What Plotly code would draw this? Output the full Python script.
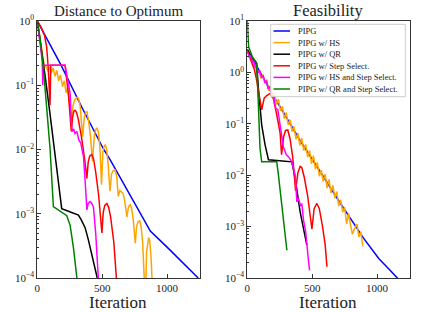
import numpy as np
import plotly.graph_objects as go

# ---------------- data (iteration, log10 value) ----------------
# Left panel: Distance to Optimum
d_pipg_it = [0, 176, 350, 512, 562, 700, 871, 1000, 1100, 1220, 1240]
d_pipg_lg = [0, -0.66, -1.37, -2.0, -2.16, -2.66, -3.27, -3.52, -3.72, -3.96, -4.0]

d_hs_it = [0, 20, 40, 55, 70, 85, 95, 110, 122, 137, 150, 165, 178, 195, 208, 222, 235, 250, 262,
           275, 290, 305, 317, 330, 340, 350, 362, 372, 382, 395, 410, 425, 440, 450, 459, 470, 482,
           495, 505, 515, 523, 533, 545, 560, 572, 585, 600, 612, 624, 636, 648, 660, 672, 682, 691,
           700, 709, 717, 727, 740, 755, 765, 777, 789, 800, 812, 822, 833, 842, 850, 858, 866, 876,
           886, 895]
d_hs_lg = [0, -0.28, -0.55, -0.7, -0.72, -0.79, -0.71, -0.8, -0.73, -0.86, -0.77, -0.93, -0.84, -1.02,
           -0.93, -1.12, -1.02, -1.3, -1.55, -1.32, -1.22, -1.19, -1.2, -1.32, -1.55, -1.8, -1.5, -1.42,
           -1.41, -1.55, -1.8, -2.18, -1.78, -1.69, -1.67, -1.72, -1.95, -2.55, -2.05, -1.95, -1.93, -1.98,
           -2.2, -2.65, -2.38, -2.33, -2.32, -2.42, -2.73, -2.64, -2.66, -2.68, -2.78, -2.9, -3.05, -2.92,
           -2.87, -2.86, -2.92, -3.1, -3.46, -3.2, -3.12, -3.11, -3.2, -3.45, -3.75, -4.4, -3.6, -3.42,
           -3.37, -3.42, -3.65, -4.1, -4.5]

d_qr_it = [0, 30, 60, 95, 130, 160, 188, 250, 317, 340, 369, 394, 430, 462, 470]
d_qr_lg = [0, -0.4, -0.85, -1.4, -2.0, -2.45, -2.92, -2.97, -3.02, -3.1, -3.22, -3.41, -3.7, -4.0, -4.1]

d_ss_it = [0, 30, 55, 72, 85, 98, 104, 214, 240, 262, 272, 282, 291, 302, 315, 340, 365, 382, 392,
           404, 420, 434, 450, 472, 498, 508, 520, 536, 550, 565, 590, 614, 620]
d_ss_lg = [0, -0.1, -0.22, -0.4, -0.75, -1.31, -0.69, -0.69, -1.15, -1.72, -1.5, -1.4, -1.39, -1.42,
           -1.52, -1.8, -2.15, -2.45, -2.2, -2.1, -2.08, -2.15, -2.35, -2.7, -3.3, -2.98, -2.87, -2.84,
           -2.9, -3.05, -3.45, -4.0, -4.3]

d_hsss_it = [0, 20, 38, 42, 46, 214, 230, 253, 262, 268, 280, 291, 305, 320, 335, 356, 369, 382, 392,
             407, 420, 433, 450, 472, 476]
d_hsss_lg = [0, -0.3, -0.62, -1.0, -0.69, -0.69, -0.9, -1.13, -1.55, -1.72, -1.68, -1.75, -1.72, -1.85,
             -1.9, -2.11, -2.5, -2.94, -2.84, -2.81, -2.84, -2.9, -3.3, -3.98, -4.2]

d_qrss_it = [0, 20, 46, 75, 98, 124, 227, 253, 280, 305, 310]
d_qrss_lg = [0, -0.25, -0.71, -1.35, -1.98, -2.89, -3.03, -3.18, -3.55, -4.0, -4.1]

# Right panel: Feasibility
f_pipg_it = [0, 100, 200, 300, 400, 562, 700, 897, 1013, 1100, 1160, 1175]
f_pipg_lg = [0.45, 0.0, -0.45, -0.87, -1.3, -1.93, -2.48, -3.23, -3.62, -3.85, -4.0, -4.05]

f_hs_it = [0, 15, 30, 45, 60, 75, 90, 105, 120, 135, 150, 165, 180, 195, 210, 225, 240, 255, 270,
           285, 300, 315, 330, 345, 360, 375, 390, 405, 420, 435, 450, 465, 480, 495, 510, 525, 540,
           555, 570, 585, 600, 615, 630, 645, 660, 675, 690, 705, 720, 735, 750, 765, 780, 795, 810,
           825, 845, 860, 875, 890]
f_hs_lg = [0.45, 0.33, 0.28, 0.15, 0.14, 0.0, 0.02, -0.12, -0.04, -0.22, -0.14, -0.36, -0.26, -0.5,
           -0.4, -0.62, -0.52, -0.75, -0.66, -0.9, -0.78, -1.02, -0.92, -1.15, -1.05, -1.3, -1.18,
           -1.42, -1.28, -1.52, -1.4, -1.65, -1.52, -1.78, -1.62, -1.88, -1.75, -2.02, -1.9, -2.12,
           -1.98, -2.25, -2.08, -2.35, -2.2, -2.45, -2.32, -2.6, -2.48, -2.72, -2.62, -2.95, -2.75,
           -2.95, -3.15, -3.05, -2.95, -3.2, -3.1, -3.38]

f_qr_it = [0, 30, 60, 72, 85, 100, 111, 137, 163, 250, 343, 369, 407, 430, 459]
f_qr_lg = [0.45, 0.3, 0.22, 0.18, -0.3, -0.75, -1.02, -1.41, -1.7, -1.72, -1.74, -2.06, -2.71, -3.0, -3.36]

f_ss_it = [0, 30, 55, 72, 90, 111, 130, 150, 175, 200, 225, 253, 264, 280, 295, 312, 330, 350, 372,
           390, 407, 420, 440, 465, 498, 515, 536, 555, 580, 600, 614]
f_ss_lg = [0.42, 0.2, 0.05, -0.15, -0.4, -0.73, -0.5, -0.45, -0.41, -0.5, -0.8, -1.18, -1.6, -1.25,
           -1.13, -1.12, -1.3, -1.65, -2.3, -1.95, -1.83, -1.85, -2.05, -2.4, -3.05, -2.65, -2.55,
           -2.65, -3.0, -3.35, -3.78]

f_hsss_it = [0, 15, 25, 40, 50, 60, 72, 85, 97, 110, 122, 137, 148, 160, 172, 189, 200, 220, 235,
             253, 278, 300, 320, 343, 369, 382, 395, 410, 420, 433, 450, 472, 480]
f_hsss_lg = [0.4, 0.3, 0.33, 0.2, 0.22, 0.1, 0.12, 0.0, 0.02, -0.1, -0.06, -0.2, -0.16, -0.32, -0.27,
             -0.48, -0.45, -0.7, -0.72, -1.02, -1.45, -1.6, -1.65, -1.74, -2.0, -2.52, -2.45, -2.6,
             -2.55, -2.87, -3.1, -3.68, -3.85]

f_qrss_it = [0, 5, 10, 40, 72, 85, 98, 111, 227, 240, 270, 305]
f_qrss_lg = [1.0, 0.75, 0.5, 0.3, 0.18, -0.6, -1.48, -1.74, -1.74, -2.0, -2.7, -3.46]

series_names = ["PIPG", "PIPG w/ HS", "PIPG w/ QR", "PIPG w/ Step Select.",
                "PIPG w/ HS and Step Select.", "PIPG w/ QR and Step Select."]
series_colors = ["#0000ff", "#ffa500", "#000000", "#ff0000", "#ff00ff", "#008000"]

left_series = [(d_pipg_it, d_pipg_lg), (d_hs_it, d_hs_lg), (d_qr_it, d_qr_lg),
               (d_ss_it, d_ss_lg), (d_hsss_it, d_hsss_lg), (d_qrss_it, d_qrss_lg)]
right_series = [(f_pipg_it, f_pipg_lg), (f_hs_it, f_hs_lg), (f_qr_it, f_qr_lg),
                (f_ss_it, f_ss_lg), (f_hsss_it, f_hsss_lg), (f_qrss_it, f_qrss_lg)]

titles = ["Distance to Optimum", "Feasibility"]
title_sizes = [15, 16.5]
xlabel = "Iteration"
x_ticks = [0, 500, 1000]
left_exps = [0, -1, -2, -3, -4]
right_exps = [1, 0, -1, -2, -3, -4]

# ---------------- figure ----------------
FONT = "Liberation Serif"
W, H = 436, 312
fig = go.Figure()

for (xs, ys), name, col in zip(left_series, series_names, series_colors):
    fig.add_trace(go.Scatter(x=xs, y=10 ** np.array(ys, dtype=float), mode="lines", name=name,
                             line=dict(color=col, width=1.5), xaxis="x", yaxis="y", showlegend=False,
                             hoverinfo="skip"))
for (xs, ys), name, col in zip(right_series, series_names, series_colors):
    fig.add_trace(go.Scatter(x=xs, y=10 ** np.array(ys, dtype=float), mode="lines", name=name,
                             line=dict(color=col, width=1.5), xaxis="x2", yaxis="y2", showlegend=False,
                             hoverinfo="skip"))


def ytick_text(e):
    s = str(e).replace("-", "\u2212")
    return "10<sup>" + s + "</sup>"


def minor_vals(lo, hi):
    v = []
    for k in range(lo, hi):
        for m in range(2, 10):
            v.append(m * 10.0 ** k)
    return v


axis_common = dict(showline=True, mirror=True, linecolor="#333333", linewidth=1, showgrid=False,
                   zeroline=False, ticks="inside", ticklen=4, tickcolor="#333333",
                   tickfont=dict(family=FONT, size=11, color="#222"))

PX = lambda px: px / W
PY = lambda py: 1 - py / H

xdom1 = [PX(37.3), PX(199.5)]
xdom2 = [PX(247.3), PX(409.5)]
ydom = [PY(278), PY(21)]

fig.update_layout(
    width=W, height=H, margin=dict(l=0, r=0, t=0, b=0, autoexpand=False),
    paper_bgcolor="white", plot_bgcolor="white",
    font=dict(family=FONT, color="#222"),
    xaxis=dict(domain=xdom1, range=[0, 1250], tickvals=x_ticks, anchor="y", automargin=False, **axis_common),
    xaxis2=dict(domain=xdom2, range=[0, 1250], tickvals=x_ticks, anchor="y2", automargin=False, **axis_common),
    yaxis=dict(domain=ydom, type="log", range=[-4, 0], anchor="x", automargin=False,
               tickvals=[10.0 ** e for e in left_exps], ticktext=[ytick_text(e) for e in left_exps],
               minor=dict(ticks="inside", ticklen=2, tickcolor="#333333", tickvals=minor_vals(-4, 0)),
               **axis_common),
    yaxis2=dict(domain=ydom, type="log", range=[-4, 1], anchor="x2", automargin=False,
                tickvals=[10.0 ** e for e in right_exps], ticktext=[ytick_text(e) for e in right_exps],
                minor=dict(ticks="inside", ticklen=2, tickcolor="#333333", tickvals=minor_vals(-4, 1)),
                **axis_common),
    showlegend=False,
    hovermode=False,
)

annotations = []
for dom, t, ts in zip([xdom1, xdom2], titles, title_sizes):
    annotations.append(dict(x=(dom[0] + dom[1]) / 2, y=PY(11), xref="paper", yref="paper", text=t,
                            showarrow=False, xanchor="center", yanchor="middle",
                            font=dict(family=FONT, size=ts, color="#222")))
    annotations.append(dict(x=(dom[0] + dom[1]) / 2, y=0, xref="paper", yref="paper", text=xlabel,
                            showarrow=False, xanchor="center", yanchor="bottom", borderpad=0, yshift=-1,
                            font=dict(family=FONT, size=17, color="#222")))

# manual legend inside the right panel
shapes = [dict(type="rect", xref="paper", yref="paper", x0=PX(270.7), x1=PX(405.3), y0=PY(96.7), y1=PY(24.3),
               line=dict(color="#cccccc", width=1), fillcolor="rgba(255,255,255,0.85)", layer="above")]
for i, (name, col) in enumerate(zip(series_names, series_colors)):
    yy = 31 + 11.6 * i
    shapes.append(dict(type="line", xref="paper", yref="paper", x0=PX(273.5), x1=PX(290),
                       y0=PY(yy), y1=PY(yy), line=dict(color=col, width=1.5), layer="above"))
    annotations.append(dict(x=PX(296), y=PY(yy), xref="paper", yref="paper", text=name, showarrow=False,
                            xanchor="left", yanchor="middle", font=dict(family=FONT, size=8.5, color="#222")))

fig.update_layout(annotations=annotations, shapes=shapes)
fig.write_html("out.html", config={"displayModeBar": False, "staticPlot": True},
               post_script="document.body.style.margin='0px';")
